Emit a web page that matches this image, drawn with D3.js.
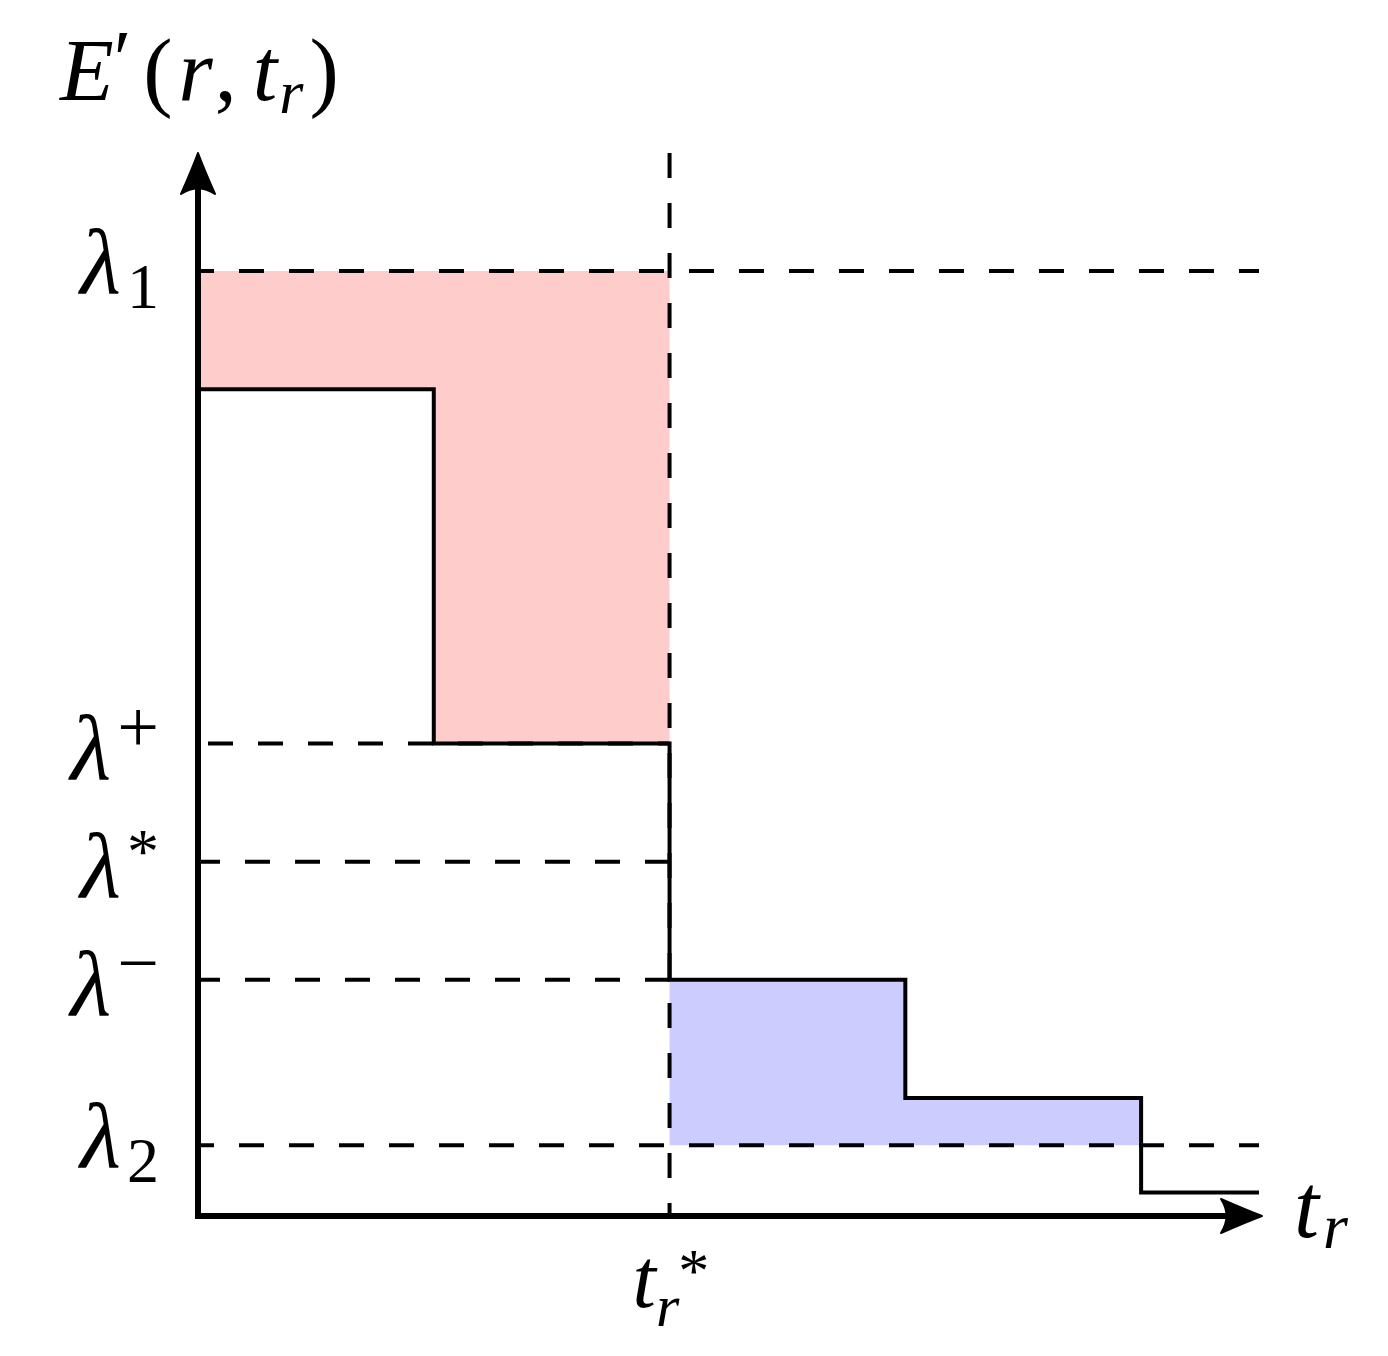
<!DOCTYPE html>
<html>
<head>
<meta charset="utf-8">
<script src="https://cdn.jsdelivr.net/npm/d3@7/dist/d3.min.js"></script>
<style>
  html, body { margin: 0; padding: 0; background: #fff; }
  svg { display: block; }
  text { font-family: "Liberation Serif", "DejaVu Serif", serif; fill: #000; }
</style>
</head>
<body>
<svg id="chart" width="1388" height="1356"></svg>
<script>
// ---- data ----
const xDomain = [0, 4.5];
const yDomain = [0, 45];
const stepX = [0, 1, 2, 3, 4, 4.5];          // step function breakpoints (t_r)
const stepY = [35, 20, 10, 5, 1, 1];         // E'(r, t_r) on each step
const tStar = 2;                             // t_r^*
const levelValues = [40, 20, 15, 10, 3];     // λ1, λ+, λ*, λ-, λ2
const levelBase = ["λ", "λ", "λ", "λ", "λ"];
const levelScript = ["1", "+", "*", "−", "2"];
const levelScriptKind = ["sub", "sup", "sup", "sup", "sub"];
const levelExtent = [4.5, 2, 2, 2, 4.5];     // dashed guide reaches this t_r
const lambda1 = 40, lambda2 = 3;

// ---- layout ----
const svg = d3.select("#chart");
const x = d3.scaleLinear().domain(xDomain).range([198, 1259]);
const y = d3.scaleLinear().domain(yDomain).range([1216, 153]);

const steps = stepX.map((t, i) => ({ t, e: stepY[i] }));

// red region: between step function and λ1 for t in [0, t*]
const redData = steps.filter(d => d.t <= tStar);
svg.append("path")
  .datum(redData)
  .attr("d", d3.area().curve(d3.curveStepAfter).x(d => x(d.t)).y0(d => y(d.e)).y1(() => y(lambda1)))
  .attr("fill", "rgb(255,204,204)");

// blue region: between λ2 and step function for t in [t*, 4]
const blueData = steps.filter(d => d.t >= tStar && d.t <= 4);
svg.append("path")
  .datum(blueData)
  .attr("d", d3.area().curve(d3.curveStepAfter).x(d => x(d.t)).y0(() => y(lambda2)).y1(d => y(d.e)))
  .attr("fill", "rgb(204,204,255)");

// dashed guides
const dashOffsets = [9, 40, 3, 3, 9];
levelValues.forEach((v, i) => {
  svg.append("line")
    .attr("x1", x(0)).attr("x2", x(levelExtent[i]))
    .attr("y1", y(v)).attr("y2", y(v))
    .attr("stroke", "#000").attr("stroke-width", 4)
    .attr("stroke-dasharray", "25,25")
    .attr("stroke-dashoffset", dashOffsets[i]);
});
svg.append("line")
  .attr("x1", x(tStar)).attr("x2", x(tStar))
  .attr("y1", y(yDomain[1])).attr("y2", y(0))
  .attr("stroke", "#000").attr("stroke-width", 4)
  .attr("stroke-dasharray", "25,25");

// step function
svg.append("path")
  .datum(steps)
  .attr("d", d3.line().curve(d3.curveStepAfter).x(d => x(d.t)).y(d => y(d.e)))
  .attr("fill", "none").attr("stroke", "#000").attr("stroke-width", 4);

// axes
const arrowHead = "M0,0 Q-16,-6 -41,-17 Q-30,0 -41,17 Q-16,6 0,0 Z";
svg.append("line")
  .attr("x1", x(0) - 3).attr("x2", x(xDomain[1]) - 6)
  .attr("y1", y(0)).attr("y2", y(0))
  .attr("stroke", "#000").attr("stroke-width", 6);
svg.append("path")
  .attr("d", arrowHead)
  .attr("transform", `translate(${x(xDomain[1]) + 3},${y(0)})`)
  .attr("fill", "#000").attr("stroke", "#000").attr("stroke-width", 2).attr("stroke-linejoin", "round");
svg.append("line")
  .attr("x1", x(0)).attr("x2", x(0))
  .attr("y1", y(0) + 3).attr("y2", y(yDomain[1]) + 6)
  .attr("stroke", "#000").attr("stroke-width", 6);
svg.append("path")
  .attr("d", arrowHead)
  .attr("transform", `translate(${x(0)},${y(yDomain[1])}) rotate(-90)`)
  .attr("fill", "#000").attr("stroke", "#000").attr("stroke-width", 2).attr("stroke-linejoin", "round");

// y level labels
levelValues.forEach((v, i) => {
  const sub = levelScriptKind[i] === "sub";
  const s = levelScript[i];
  const t = svg.append("text")
    .attr("x", x(0) - 39)
    .attr("y", y(v) + (sub ? 22 : 35))
    .attr("text-anchor", "end");
  t.append("tspan").attr("font-style", "italic").attr("font-size", 94).text(levelBase[i]);
  const big = (s === "+" || s === "−");
  const dy = sub ? 15 : (s === "*" ? -24 : -27);
  t.append("tspan").attr("font-size", big ? 74 : 64).attr("dx", 6).attr("dy", dy).text(s);
});

// t_r^* label under the axis
const tx = x(tStar);
const ts = svg.append("text").attr("x", tx - 37).attr("y", 1307);
ts.append("tspan").attr("font-style", "italic").attr("font-size", 84).text("t");
ts.append("tspan").attr("font-style", "italic").attr("font-size", 60).attr("dx", 0).attr("dy", 19).text("r");
ts.append("tspan").attr("font-size", 62).attr("dx", -1).attr("dy", -35).text("*");

// axis title t_r
svg.append("text").attr("x", 1294).attr("y", 1237)
  .attr("font-style", "italic").attr("font-size", 90).text("t");
svg.append("text").attr("x", 1323).attr("y", 1248)
  .attr("font-style", "italic").attr("font-size", 64).text("r");

// axis title E'(r, t_r)
const et = svg.append("text").attr("x", 60).attr("y", 100).attr("font-size", 88);
et.append("tspan").attr("font-style", "italic").text("E");
et.append("tspan").attr("font-size", 80).attr("dy", -14).attr("dx", 0).text("′");
et.append("tspan").attr("dy", 14).attr("dx", 12).text("(");
et.append("tspan").attr("font-style", "italic").attr("dx", 6).text("r");
et.append("tspan").attr("dx", 2).text(",");
et.append("tspan").attr("font-style", "italic").attr("dx", 16).text("t");
et.append("tspan").attr("font-style", "italic").attr("font-size", 62).attr("dy", 13).attr("dx", 2).text("r");
et.append("tspan").attr("dy", -13).attr("dx", 6).text(")");
</script>
</body>
</html>
